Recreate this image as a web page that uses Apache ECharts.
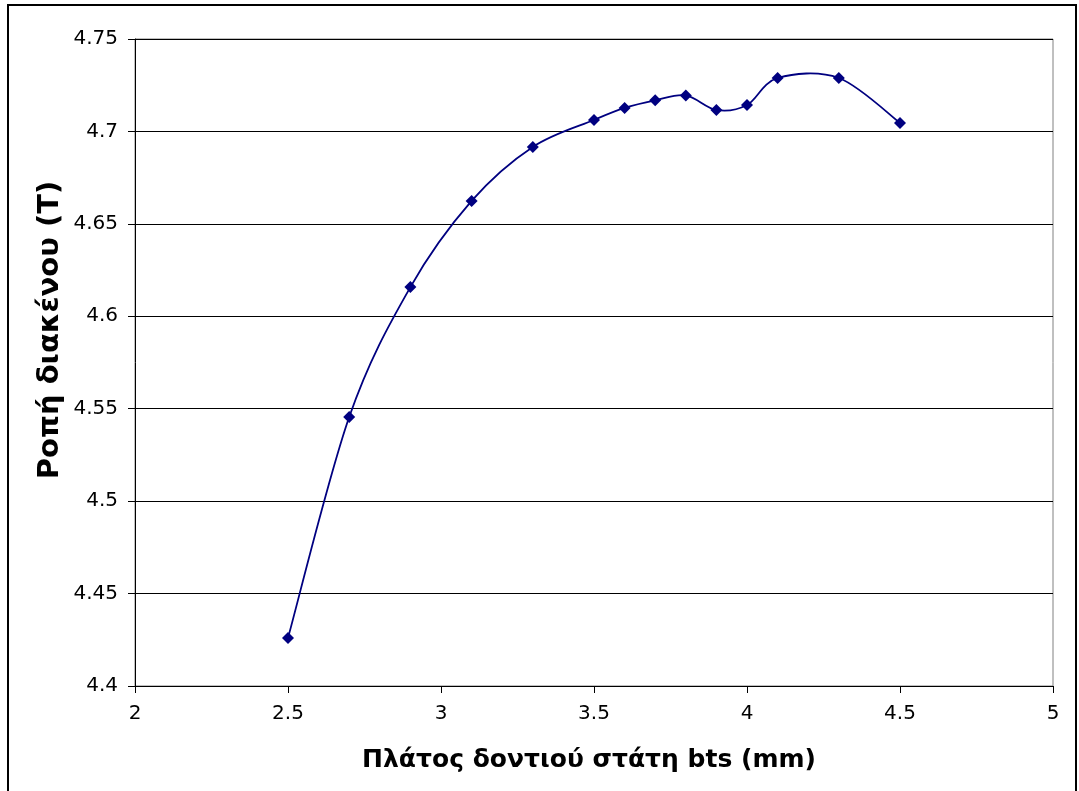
<!DOCTYPE html>
<html>
<head>
<meta charset="utf-8">
<script src="https://cdn.jsdelivr.net/npm/echarts@6/dist/echarts.min.js"></script>
<style>
html,body{margin:0;padding:0;background:#fff;}
#frame{position:absolute;left:7px;top:4px;width:1070px;height:800px;border:2px solid #000;box-sizing:border-box;}
#chart{position:absolute;left:0;top:0;width:1079px;height:791px;}
</style>
</head>
<body>
<div id="frame"></div>
<div id="chart"></div>
<script>
const xValues = [2.5, 2.7, 2.9, 3.1, 3.3, 3.5, 3.6, 3.7, 3.8, 3.9, 4.0, 4.1, 4.3, 4.5];
const yValues = [4.426, 4.5455, 4.6158, 4.6624, 4.6916, 4.7062, 4.7127, 4.7168, 4.7195, 4.7116, 4.7143, 4.7289, 4.7289, 4.7046];
const xTitle = 'Πλάτος δοντιού στάτη bts (mm)';
const yTitle = 'Ροπή διακένου (T)';

const chart = echarts.init(document.getElementById('chart'));
const font = 'Verdana, "DejaVu Sans", sans-serif';
const n = xValues.length;
const clampIdx = k => Math.max(0, Math.min(n - 1, k));
const points = xValues.map((x, i) => [x, yValues[i]]);

chart.setOption({
  animation: false,
  grid: {left: 135, top: 39, right: 26, bottom: 105, show: true, borderColor: '#808080', borderWidth: 1, backgroundColor: '#fff'},
  graphic: [{
    type: 'text', x: 50, y: 330, rotation: Math.PI / 2,
    style: {text: yTitle, font: 'bold 29px Verdana, "DejaVu Sans", sans-serif', fill: '#000', align: 'center', verticalAlign: 'middle'}
  }, {
    type: 'text', x: 589, y: 760,
    style: {text: xTitle, font: 'bold 25px Verdana, "DejaVu Sans", sans-serif', fill: '#000', align: 'center', verticalAlign: 'middle'}
  }],
  xAxis: {
    type: 'value', min: 2, max: 5, interval: 0.5,
    axisLine: {show: true, lineStyle: {color: '#000', width: 1}},
    axisTick: {show: true, length: 7, lineStyle: {color: '#000'}},
    axisLabel: {fontFamily: font, fontSize: 20, color: '#000', margin: 18},
    splitLine: {show: false}
  },
  yAxis: {
    type: 'value', min: 4.4, max: 4.75, interval: 0.05,
    axisLine: {show: true, lineStyle: {color: '#000', width: 1}},
    axisTick: {show: true, length: 7, lineStyle: {color: '#000'}},
    axisLabel: {fontFamily: font, fontSize: 20, color: '#000', margin: 17,
      formatter: v => String(parseFloat(v.toFixed(2)))},
    splitLine: {show: true, lineStyle: {color: '#000', width: 1}}
  },
  series: [{
    type: 'custom',
    data: points,
    silent: true,
    renderItem: (params, api) => {
      const i = params.dataIndex;
      if (i >= n - 1) return null;
      const p = k => api.coord([xValues[clampIdx(k)], yValues[clampIdx(k)]]);
      const p0 = p(i - 1), p1 = p(i), p2 = p(i + 1), p3 = p(i + 2);
      const t = 1 / 6;
      return {
        type: 'bezierCurve',
        shape: {
          x1: p1[0], y1: p1[1], x2: p2[0], y2: p2[1],
          cpx1: p1[0] + (p2[0] - p0[0]) * t, cpy1: p1[1] + (p2[1] - p0[1]) * t,
          cpx2: p2[0] - (p3[0] - p1[0]) * t, cpy2: p2[1] - (p3[1] - p1[1]) * t
        },
        style: {stroke: '#000080', lineWidth: 1.8, fill: null}
      };
    }
  }, {
    type: 'scatter',
    data: points,
    symbol: 'diamond', symbolSize: 12,
    itemStyle: {color: '#000080', opacity: 1}
  }]
});
</script>
</body>
</html>
